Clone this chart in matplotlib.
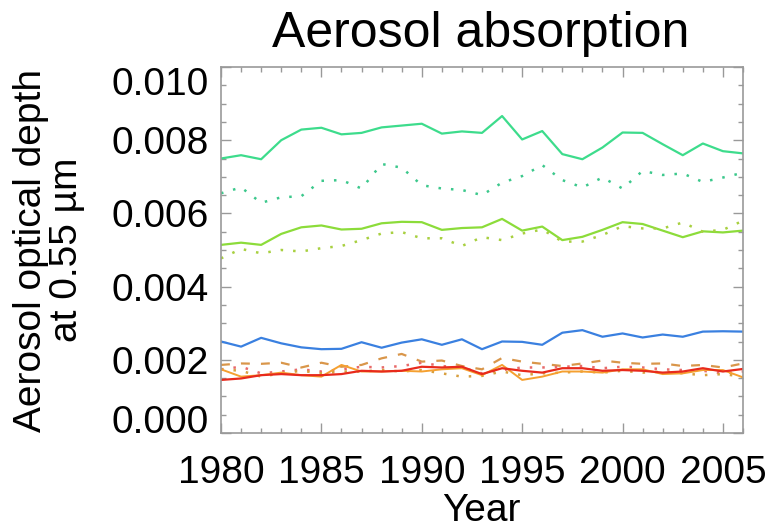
import numpy as np
import matplotlib.pyplot as plt
from matplotlib.ticker import MultipleLocator

plt.rcParams['font.family'] = ['Liberation Sans', 'DejaVu Sans']

# years 1980-2006
years = np.arange(1980, 2007)

# aerosol absorption optical depth series
teal_solid = [0.00750, 0.00759, 0.00748, 0.00800, 0.00829, 0.00834, 0.00816, 0.00820, 0.00835,
              0.00840, 0.00845, 0.00818, 0.00824, 0.00820, 0.00866, 0.00802, 0.00825, 0.00762,
              0.00748, 0.00780, 0.00821, 0.00820, 0.00789, 0.00759, 0.00791, 0.00770, 0.00764]
teal_dot = [0.00655, 0.00671, 0.00629, 0.00644, 0.00647, 0.00689, 0.00691, 0.00668, 0.00735,
            0.00725, 0.00677, 0.00668, 0.00664, 0.00650, 0.00684, 0.00702, 0.00732, 0.00691,
            0.00671, 0.00698, 0.00668, 0.00716, 0.00705, 0.00709, 0.00686, 0.00698, 0.00711]
green_solid = [0.00514, 0.00520, 0.00514, 0.00544, 0.00562, 0.00567, 0.00556, 0.00558, 0.00573,
               0.00577, 0.00576, 0.00555, 0.00560, 0.00562, 0.00585, 0.00553, 0.00564, 0.00527,
               0.00536, 0.00555, 0.00576, 0.00571, 0.00553, 0.00535, 0.00551, 0.00548, 0.00553]
green_dot = [0.00477, 0.00503, 0.00491, 0.00500, 0.00496, 0.00505, 0.00511, 0.00527, 0.00545,
             0.00549, 0.00532, 0.00532, 0.00511, 0.00535, 0.00527, 0.00545, 0.00556, 0.00523,
             0.00523, 0.00541, 0.00565, 0.00559, 0.00559, 0.00575, 0.00550, 0.00555, 0.00580]
blue_solid = [0.00250, 0.00236, 0.00260, 0.00245, 0.00234, 0.00229, 0.00230, 0.00248, 0.00233,
              0.00247, 0.00256, 0.00241, 0.00256, 0.00229, 0.00250, 0.00249, 0.00241, 0.00274,
              0.00281, 0.00263, 0.00272, 0.00261, 0.00269, 0.00263, 0.00277, 0.00278, 0.00277]
tan_dash = [0.00186, 0.00190, 0.00189, 0.00192, 0.00179, 0.00192, 0.00181, 0.00186, 0.00204,
            0.00216, 0.00195, 0.00198, 0.00183, 0.00174, 0.00205, 0.00195, 0.00189, 0.00183,
            0.00190, 0.00198, 0.00192, 0.00189, 0.00190, 0.00183, 0.00186, 0.00179, 0.00190]
red_dot = [0.00174, 0.00181, 0.00163, 0.00168, 0.00174, 0.00168, 0.00174, 0.00181, 0.00179,
           0.00183, 0.00192, 0.00183, 0.00179, 0.00163, 0.00172, 0.00179, 0.00179, 0.00181,
           0.00183, 0.00177, 0.00181, 0.00179, 0.00174, 0.00172, 0.00170, 0.00163, 0.00168]
orange_dot = [0.00174, 0.00170, 0.00154, 0.00163, 0.00170, 0.00163, 0.00168, 0.00168, 0.00172,
              0.00168, 0.00172, 0.00163, 0.00154, 0.00156, 0.00168, 0.00158, 0.00163, 0.00165,
              0.00168, 0.00165, 0.00170, 0.00165, 0.00168, 0.00163, 0.00158, 0.00161, 0.00154]
orange_solid = [0.00174, 0.00154, 0.00158, 0.00165, 0.00158, 0.00154, 0.00186, 0.00168, 0.00168,
                0.00170, 0.00168, 0.00174, 0.00177, 0.00158, 0.00186, 0.00145, 0.00154, 0.00168,
                0.00168, 0.00165, 0.00174, 0.00174, 0.00161, 0.00163, 0.00172, 0.00172, 0.00152]
red_solid = [0.00145, 0.00149, 0.00158, 0.00161, 0.00158, 0.00158, 0.00161, 0.00170, 0.00168,
             0.00170, 0.00181, 0.00179, 0.00181, 0.00161, 0.00177, 0.00170, 0.00165, 0.00177,
             0.00177, 0.00170, 0.00172, 0.00170, 0.00165, 0.00168, 0.00177, 0.00168, 0.00175]

yticks = [0.000, 0.002, 0.004, 0.006, 0.008, 0.010]

dot = (0, (1, 4))
dash = (0, (4, 5))

fig = plt.figure(figsize=(7.69, 5.31), dpi=100)
ax = fig.add_axes([221 / 769, 1 - 433 / 531, 522 / 769, 366 / 531])

ax.plot(years, teal_solid, color='#3ddc8c', lw=1.6)
ax.plot(years, teal_dot, color='#3cc88c', lw=1.8, linestyle=dot)
ax.plot(years, green_solid, color='#8cdc3a', lw=1.6)
ax.plot(years, green_dot, color='#a8d040', lw=1.8, linestyle=dot)
ax.plot(years, blue_solid, color='#3a80e0', lw=1.6)
ax.plot(years, tan_dash, color='#d9964a', lw=1.6, linestyle=dash)
ax.plot(years, red_dot, color='#e86a6a', lw=1.8, linestyle=dot)
ax.plot(years, orange_dot, color='#d8a040', lw=1.8, linestyle=dot)
ax.plot(years, orange_solid, color='#f5a030', lw=1.4)
ax.plot(years, red_solid, color='#e82a1c', lw=1.6)

ax.set_xlim(1980, 2006)
ax.set_ylim(0, 0.010)
ax.xaxis.set_major_locator(MultipleLocator(5))
ax.xaxis.set_minor_locator(MultipleLocator(1))
ax.set_yticks(yticks, [f"{v:.3f}" for v in yticks])
ax.yaxis.set_minor_locator(MultipleLocator(0.0005))

for s in ax.spines.values():
    s.set_color('#999999')
    s.set_linewidth(1.2)
ax.tick_params(which='both', direction='in', top=True, right=True, color='#999999', width=1)
ax.tick_params(which='major', length=7)
ax.tick_params(which='minor', length=3.5)
ax.tick_params(axis='x', which='major', labelsize=28, pad=16)
ax.tick_params(axis='y', which='major', labelsize=28, pad=9)

# end labels kept inside the axis range
yt = ax.yaxis.get_major_ticks()
yt[0].label1.set_va('baseline')
yt[-1].label1.set_va('top')

fig.text(481 / 769, 1 - 47 / 531, 'Aerosol absorption', fontsize=36, ha='center', va='baseline')
fig.text(481 / 769, 1 - 521 / 531, 'Year', fontsize=28, ha='center', va='baseline')
fig.text(49 / 769, 1 - 250 / 531, 'Aerosol optical depth\nat 0.55 µm', fontsize=28,
         rotation=90, ha='center', va='center', multialignment='center', linespacing=1.0)

fig.savefig('out.png', dpi=100)
